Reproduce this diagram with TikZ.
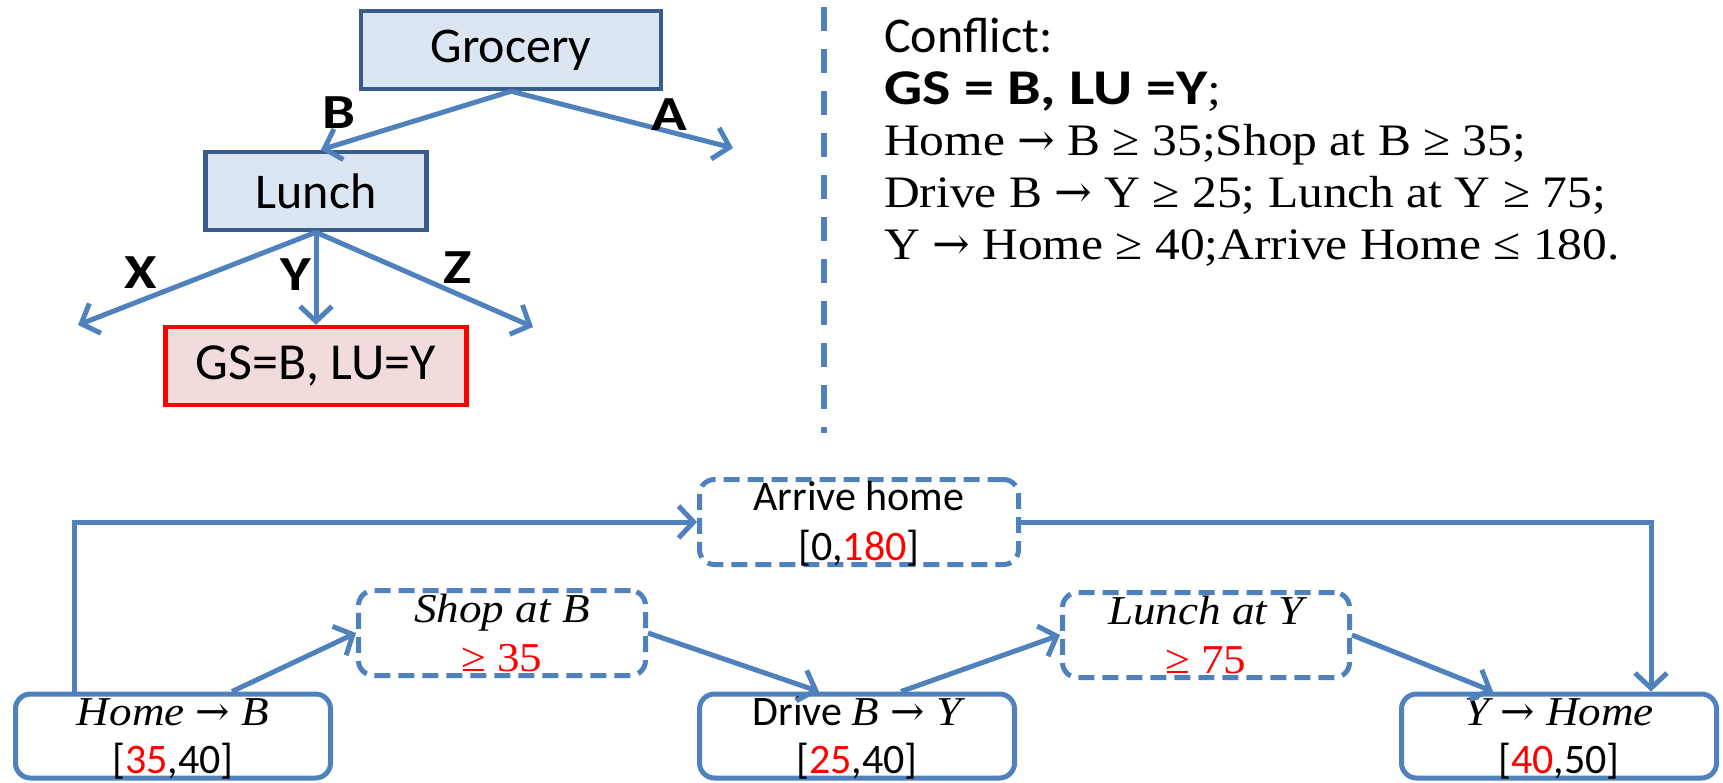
\documentclass[tikz,border=0pt]{standalone}
\usepackage{fontspec}
\setmainfont{Carlito}
\newfontfamily\serif[FakeStretch=1.1]{Liberation Serif}
\newfontfamily\wbold[FakeStretch=1.2]{Carlito Bold}
\newfontfamily\arrowfont{DejaVu Serif}
\usetikzlibrary{arrows.meta,calc}
\definecolor{ablue}{HTML}{4F81BD}
\definecolor{boxdark}{HTML}{385D8A}
\definecolor{boxfill}{HTML}{DCE6F2}
\definecolor{pinkfill}{HTML}{F2DCDB}
\definecolor{tred}{HTML}{FF0000}
\newcommand{\ar}{{\arrowfont\upshape →}}
\tikzset{
  tbox/.style={draw=boxdark, fill=boxfill, line width=4.5pt, inner sep=0pt, font=\fontsize{50}{56}\selectfont},
  rbox/.style={draw=tred, fill=pinkfill, line width=4.5pt, inner sep=0pt, font=\fontsize{52}{56}\selectfont},
  tarr/.style={draw=ablue, line width=5pt, -{Straight Barb[length=15pt,width=32pt]}},
  conn/.style={draw=ablue, line width=5pt, -{Straight Barb[length=15pt,width=32pt]}},
  sbox/.style={draw=ablue, line width=5pt, rounded corners=15pt, inner sep=0pt, minimum width=315pt, minimum height=84pt},
  dbox/.style={draw=ablue, line width=5pt, rounded corners=15pt, inner sep=0pt, dash pattern=on 16pt off 8pt, minimum height=85pt},
  lab/.style={inner sep=0pt, font=\fontsize{49}{50}\selectfont\wbold},
  txt/.style={inner sep=0pt, anchor=base west, font=\fontsize{50}{50}\selectfont},
  stxt/.style={inner sep=0pt, anchor=base west, font=\fontsize{45}{50}\selectfont\serif},
  bt/.style={inner sep=0pt, anchor=base, font=\fontsize{42}{50}\selectfont},
  bs/.style={inner sep=0pt, anchor=base, font=\fontsize{41}{50}\selectfont\serif},
}
\begin{document}
\begin{tikzpicture}[x=1pt,y=-1pt]
\useasboundingbox (0,0) rectangle (1723,782);
% tree
\node[tbox, minimum width=300pt, minimum height=78pt] (grocery) at (511,50) {Grocery};
\node[tbox, minimum width=221pt, minimum height=78pt] (lunch) at (316,191) {Lunch};
\node[rbox, minimum width=301pt, minimum height=78pt] (gs) at (316,366) {GS=B, LU=Y};
\coordinate (aend) at (733,148);
\coordinate (xend) at (78,325);
\coordinate (zend) at (533,327);
\draw[tarr] (grocery.south) -- ([xshift=5pt]lunch.north);
\draw[tarr] (grocery.south) -- (aend);
\draw[tarr] (lunch.south) -- (xend);
\draw[tarr] (lunch.south) -- (gs.north);
\draw[tarr] (lunch.south) -- (zend);
\node[lab] (lb) at (339,113) {B};
\node[lab] (la) at (669,115) {A};
\node[lab] (lx) at (141,273) {X};
\node[lab] (ly) at (296,275) {Y};
\node[lab] (lz) at (458,268) {Z};
% divider
\coordinate (dtop) at (824,7);
\coordinate (dbot) at (824,433);
\draw[ablue, line width=6pt, dash pattern=on 24pt off 18pt] (dtop) -- (dbot);
% conflict text
\node[txt] (t1) at (884,52) {Conflict:};
\node[txt] (t2) at (884,104) {\wbold GS = B, LU =Y\serif\fontsize{45}{50}\selectfont;};
\node[stxt] (t3) at (884,155) {Home \ar{} B ≥ 35;Shop at B ≥ 35;};
\node[stxt] (t4) at (884,207) {Drive B \ar{} Y ≥ 25; Lunch at Y ≥ 75;};
\node[stxt] (t5) at (884,259) {Y \ar{} Home ≥ 40;Arrive Home ≤ 180.};
% bottom network
\node[dbox, minimum width=319pt] (arrive) at (859,522) {};
\node[dbox, minimum width=287pt] (shop) at (502,633) {};
\node[dbox, minimum width=287pt] (lunchy) at (1206,635) {};
\node[sbox, minimum width=315pt] (home) at (173,736) {};
\node[sbox, minimum width=315pt] (drive) at (857,736) {};
\node[sbox, minimum width=315pt] (yhome) at (1559,736) {};
\node[bt] (arrive1) at (859,510) {Arrive home};
\node[bt] (arrive2) at (859,560) {{[}0,\textcolor{tred}{180}]};
\node[bs] (shop1) at (502,622) {\itshape Shop at B};
\node[bs] (shop2) at (502,671) {\textcolor{tred}{≥ 35}};
\node[bs] (lunchy1) at (1206,624) {\itshape Lunch at Y};
\node[bs] (lunchy2) at (1206,673) {\textcolor{tred}{≥ 75}};
\node[bs] (home1) at (173,725) {\itshape Home \ar{} B};
\node[bt] (home2) at (173,773) {{[}\textcolor{tred}{35},40]};
\node[bs] (drive1) at (857,725) {\normalfont\fontsize{42}{50}\selectfont Drive \serif\fontsize{41}{50}\selectfont\itshape B \ar{} Y};
\node[bt] (drive2) at (857,773) {{[}\textcolor{tred}{25},40]};
\node[bs] (yhome1) at (1559,725) {\itshape Y \ar{} Home};
\node[bt] (yhome2) at (1559,773) {{[}\textcolor{tred}{40},50]};
\draw[conn] ([xshift=61pt]home.north west) |- (arrive.west);
\draw[conn] (arrive.east) -| ([xshift=-68pt]yhome.north east);
\draw[conn] ([xshift=219pt]home.north west) -- (shop.west);
\draw[conn] (shop.east) -- ([xshift=122pt]drive.north west);
\draw[conn] ([xshift=204pt]drive.north west) -- (lunchy.west);
\draw[conn] (lunchy.east) -- ([xshift=94pt]yhome.north west);
\end{tikzpicture}
\end{document}
